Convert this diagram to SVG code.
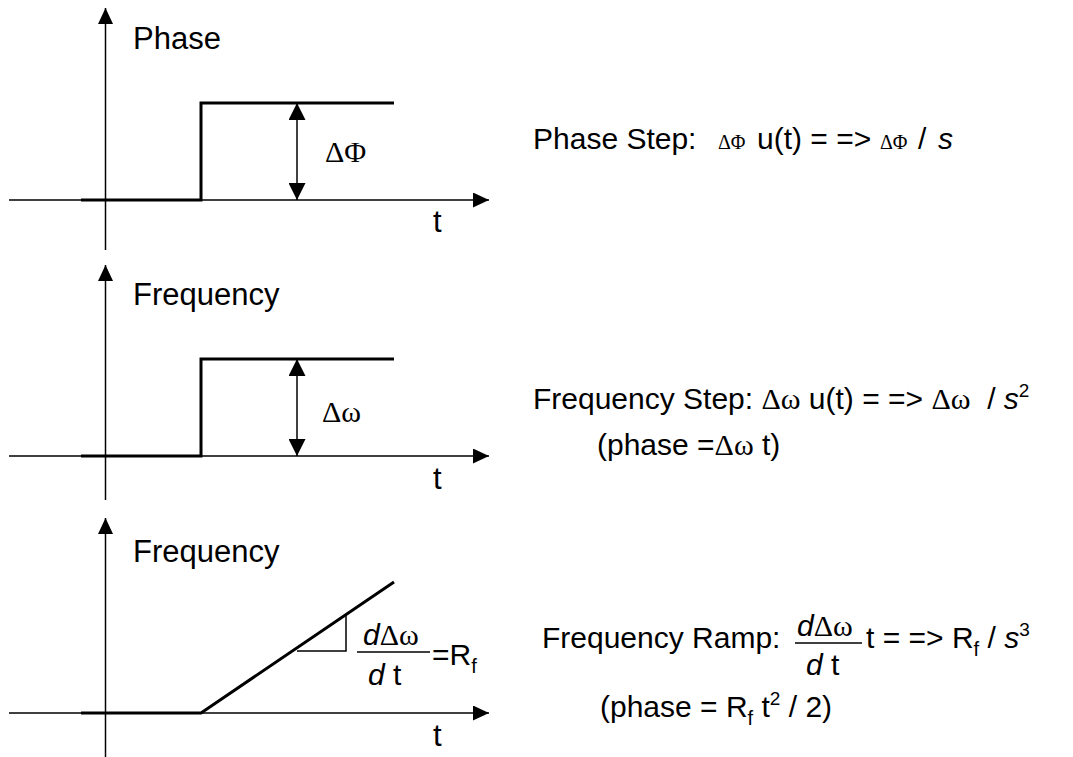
<svg xmlns="http://www.w3.org/2000/svg" width="1073" height="757" viewBox="0 0 1073 757">
<style>
.ax{stroke:#000;stroke-width:1.5;fill:none}
.sig{stroke:#000;stroke-width:3;fill:none;stroke-linejoin:miter}
.thin{stroke:#000;stroke-width:1.5;fill:none}
.s{font-family:"Liberation Sans",Arial,sans-serif;font-size:30px;fill:#000}
.lbl{font-size:31px}
.g{font-family:"Liberation Serif","Times New Roman",serif}
.i{font-style:italic}
.sub{font-size:20px}
.sup{font-size:19px}
</style>
<defs>
<marker id="axArrow" markerUnits="userSpaceOnUse" markerWidth="17" markerHeight="15" refX="16" refY="7.5" orient="auto" viewBox="0 0 17 15">
<path d="M0,0 L16,7.5 L0,15 z" fill="#000"/>
</marker>
<marker id="dimArrow" markerUnits="userSpaceOnUse" markerWidth="18" markerHeight="17" refX="17" refY="8.5" orient="auto-start-reverse" viewBox="0 0 18 17">
<path d="M0,0 L17,8.5 L0,17 z" fill="#000"/>
</marker>
</defs>

<g id="connectors">
<line class="ax" x1="105.5" y1="250" x2="105.5" y2="8" marker-end="url(#axArrow)"/>
<line class="ax" x1="9" y1="200" x2="489" y2="200" marker-end="url(#axArrow)"/>
<line class="ax" x1="105.5" y1="500" x2="105.5" y2="265" marker-end="url(#axArrow)"/>
<line class="ax" x1="9" y1="456" x2="489" y2="456" marker-end="url(#axArrow)"/>
<line class="ax" x1="105.5" y1="757" x2="105.5" y2="518" marker-end="url(#axArrow)"/>
<line class="ax" x1="9" y1="713" x2="489" y2="713" marker-end="url(#axArrow)"/>
<line class="thin" x1="297" y1="103" x2="297" y2="200" marker-start="url(#dimArrow)" marker-end="url(#dimArrow)"/>
<line class="thin" x1="297" y1="359" x2="297" y2="456" marker-start="url(#dimArrow)" marker-end="url(#dimArrow)"/>
</g>

<g id="phase-step-plot">
<polyline class="sig" points="81,200 201,200 201,103 394,103"/>
<text class="s lbl" x="133" y="49">Phase</text>
<text class="s lbl" x="433" y="232">t</text>
<text class="s g" x="325" y="162" font-size="26">ΔΦ</text>
</g>

<g id="freq-step-plot">
<polyline class="sig" points="81,456 201,456 201,359 394,359"/>
<text class="s lbl" x="133" y="305">Frequency</text>
<text class="s lbl" x="433" y="489">t</text>
<text class="s g" x="322" y="422">Δω</text>
</g>

<g id="freq-ramp-plot">
<polyline class="sig" points="81,713 201,713 394,582"/>
<polyline class="thin" points="297,651 346,651 346,615"/>
<text class="s lbl" x="133" y="562">Frequency</text>
<text class="s lbl" x="433" y="746">t</text>
<text class="s" x="363" y="645"><tspan class="i">d</tspan><tspan class="g">Δω</tspan></text>
<line class="thin" x1="357" y1="652" x2="430" y2="652"/>
<text class="s" x="368" y="685"><tspan class="i">d</tspan> t</text>
<text class="s" x="432" y="665">=R<tspan class="sub" dy="8">f</tspan></text>
</g>

<g id="phase-step-eq">
<text class="s" x="533" y="149">Phase Step:<tspan x="718" class="g" font-size="20">ΔΦ</tspan><tspan x="757">u(t) = =&gt;</tspan><tspan x="880" class="g" font-size="20">ΔΦ</tspan><tspan x="918">/</tspan><tspan x="938" class="i">s</tspan></text>
</g>

<g id="freq-step-eq">
<text class="s" x="533" y="409" xml:space="preserve">Frequency Step: <tspan class="g">Δω</tspan> u(t) = =&gt; <tspan class="g">Δω</tspan>  / <tspan class="i">s</tspan><tspan class="sup" dy="-12">2</tspan></text>
<text class="s" x="597" y="455">(phase =<tspan class="g">Δω</tspan> t)</text>
</g>

<g id="freq-ramp-eq">
<text class="s" x="542" y="648">Frequency Ramp:</text>
<text class="s" x="797" y="636"><tspan class="i">d</tspan><tspan class="g">Δω</tspan></text>
<line class="thin" x1="795" y1="643" x2="862" y2="643"/>
<text class="s" x="806" y="675"><tspan class="i">d</tspan> t</text>
<text class="s" x="866" y="648">t = =&gt; R<tspan class="sub" dy="8">f</tspan><tspan dy="-8"> / </tspan><tspan class="i">s</tspan><tspan class="sup" dy="-12">3</tspan></text>
<text class="s" x="600" y="717">(phase = R<tspan class="sub" dy="8">f</tspan><tspan dy="-8"> t</tspan><tspan class="sup" dy="-12">2</tspan><tspan dy="12"> / 2)</tspan></text>
</g>
</svg>
